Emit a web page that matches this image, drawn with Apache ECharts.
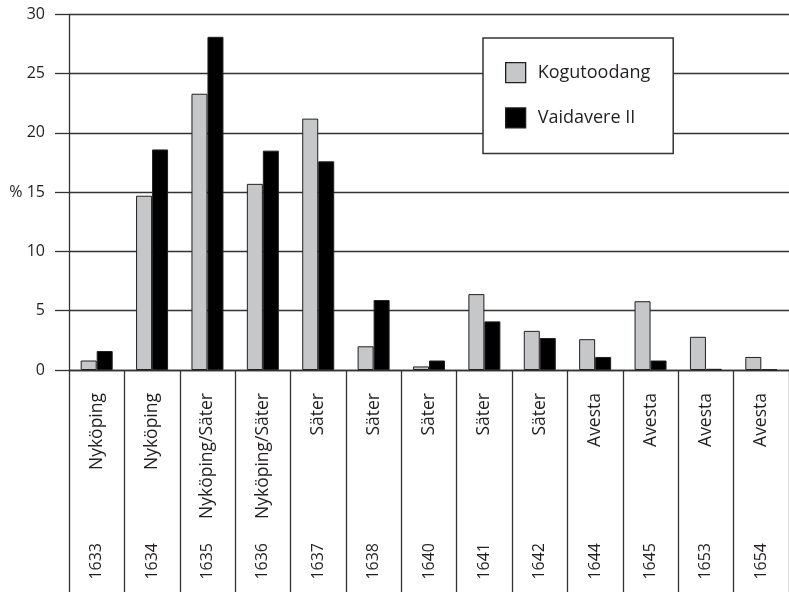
<!DOCTYPE html>
<html>
<head>
<meta charset="utf-8">
<script src="https://cdn.jsdelivr.net/npm/echarts@6/dist/echarts.min.js"></script>
<style>html,body{margin:0;padding:0;background:#fff;}#c{width:789px;height:592px;}</style>
</head>
<body>
<div id="c"></div>
<script>
var years = ['1633','1634','1635','1636','1637','1638','1640','1641','1642','1644','1645','1653','1654'];
var places = ['Nyköping','Nyköping','Nyköping/Säter','Nyköping/Säter','Säter','Säter','Säter','Säter','Säter','Avesta','Avesta','Avesta','Avesta'];
var kogutoodang = [0.8, 14.7, 23.3, 15.7, 21.2, 2.0, 0.3, 6.4, 3.3, 2.6, 5.8, 2.8, 1.1];
var vaidavere = [1.6, 18.6, 28.1, 18.5, 17.6, 5.9, 0.8, 4.1, 2.7, 1.1, 0.8, 0.1, 0.05];
var yTicks = [0, 5, 10, 15, 20, 25, 30];

var FONT = 'Open Sans';
var LINE = '#333333';
var chart = echarts.init(document.getElementById('c'), null, {renderer: 'canvas'});
chart.setOption({
  animation: false,
  backgroundColor: '#ffffff',
  grid: {left: 69, top: 14.3, width: 725, bottom: 222, containLabel: false},
  legend: {
    orient: 'vertical',
    left: 483, top: 38,
    padding: [24, 23, 25, 22],
    itemWidth: 20, itemHeight: 20, itemGap: 24,
    icon: 'rect',
    backgroundColor: '#ffffff',
    borderColor: LINE, borderWidth: 1.5,
    textStyle: {fontFamily: FONT, fontSize: 18, color: '#231f20', padding: [0, 0, 0, 7]},
    data: ['Kogutoodang', 'Vaidavere II'],
    itemStyle: {borderColor: '#231f20', borderWidth: 1.3}
  },
  xAxis: [{
    type: 'category', data: places, position: 'bottom',
    boundaryGap: true,
    axisLine: {show: true, lineStyle: {color: LINE, width: 1.3}},
    axisTick: {show: true, length: 230, lineStyle: {color: LINE, width: 1.3}},
    axisLabel: {rotate: 90, margin: 23, interval: 0, fontFamily: FONT, fontSize: 17.5, color: '#231f20'},
    splitLine: {show: false}
  }, {
    type: 'category', data: years, position: 'bottom',
    boundaryGap: true,
    axisLine: {show: false}, axisTick: {show: false},
    axisLabel: {rotate: 90, margin: 173, interval: 0, fontFamily: FONT, fontSize: 16, color: '#231f20'},
    splitLine: {show: false}
  }],
  yAxis: {
    type: 'value', min: yTicks[0], max: yTicks[yTicks.length - 1], interval: 5,
    axisLine: {show: true, lineStyle: {color: LINE, width: 1.3}},
    axisTick: {show: true, length: 14, lineStyle: {color: LINE, width: 1.3}},
    axisLabel: {margin: 24, fontFamily: FONT, fontSize: 16, color: '#231f20',
      formatter: function (v) { return v === 15 ? '% 15' : String(v); }},
    splitLine: {show: true, lineStyle: {color: LINE, width: 1.3}}
  },
  series: [{
    name: 'Kogutoodang', type: 'bar', xAxisIndex: 0, data: kogutoodang,
    barWidth: 16, barGap: '0%',
    itemStyle: {color: '#c6c7c9', borderColor: '#231f20', borderWidth: 1}
  }, {
    name: 'Vaidavere II', type: 'bar', xAxisIndex: 0, data: vaidavere,
    barWidth: 16, barGap: '0%',
    itemStyle: {color: '#000000', borderColor: '#231f20', borderWidth: 1}
  }]
});
</script>
</body>
</html>
